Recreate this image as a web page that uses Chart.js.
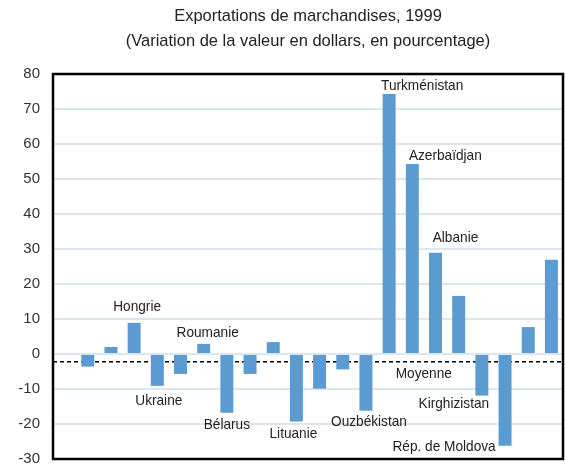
<!DOCTYPE html>
<html>
<head>
<meta charset="utf-8">
<script src="https://cdn.jsdelivr.net/npm/chart.js@4"></script>
<style>
  html, body { margin: 0; padding: 0; background: #fff; }
  #wrap { width: 565px; height: 465px; }
</style>
</head>
<body>
<div id="wrap"><canvas id="mainChart" width="565" height="465"></canvas></div>
<script>
// Exportations de marchandises, 1999 -- variation en %
const titleText = 'Exportations de marchandises, 1999';
const subtitleText = '(Variation de la valeur en dollars, en pourcentage)';

// one slot per bar; the first slot is left empty in the original
const countries = ['', '', '', 'Hongrie', 'Ukraine', '', 'Roumanie', 'Bélarus', '', '', 'Lituanie', '', '',
  'Ouzbékistan', 'Turkménistan', 'Azerbaïdjan', 'Albanie', '', 'Kirghizistan', 'Rép. de Moldova', '', ''];
const changes = [null, -3.6, 2.0, 8.9, -9.1, -5.7, 2.9, -16.8, -5.7, 3.4, -19.3, -9.9, -4.4,
  -16.2, 74.3, 54.3, 28.9, 16.6, -11.9, -26.2, 7.7, 26.9];
const average = -2.2;
const averageLabel = 'Moyenne';
const yTicks = [-30, -20, -10, 0, 10, 20, 30, 40, 50, 60, 70, 80];

const FONT = "'Liberation Sans', sans-serif";

// where each country name sits relative to the end of its bar (px)
const labelOffsets = {
  'Hongrie': [3, -16], 'Ukraine': [1.5, 15], 'Roumanie': [4, -11], 'Bélarus': [0, 12],
  'Lituanie': [-3, 12], 'Ouzbékistan': [3, 11], 'Turkménistan': [33, -8],
  'Azerbaïdjan': [33, -8], 'Albanie': [20, -15], 'Kirghizistan': [-28, 8],
  'Rép. de Moldova': [-61, 1]
};

// the original uses a condensed face, so squeeze the text a bit
function narrowText(ctx, text, x, y, squeeze) {
  ctx.save();
  ctx.translate(x, y);
  ctx.scale(squeeze, 1);
  ctx.fillText(text, 0, 0);
  ctx.restore();
}

const decorations = {
  id: 'decorations',
  beforeDatasetsDraw(chart) {
    const ctx = chart.ctx;
    const area = chart.chartArea;
    const yy = chart.scales.y.getPixelForValue(average);
    ctx.save();
    ctx.strokeStyle = '#000';
    ctx.lineWidth = 1.5;
    ctx.setLineDash([4, 3]);
    ctx.beginPath();
    ctx.moveTo(area.left, yy);
    ctx.lineTo(area.right, yy);
    ctx.stroke();
    ctx.restore();
  },
  afterDatasetsDraw(chart) {
    const ctx = chart.ctx;
    const area = chart.chartArea;
    const meta = chart.getDatasetMeta(0);
    ctx.save();
    // frame
    ctx.strokeStyle = '#000';
    ctx.lineWidth = 2.5;
    ctx.strokeRect(area.left, area.top, area.right - area.left, area.bottom - area.top);

    ctx.fillStyle = '#222';
    ctx.font = '15px ' + FONT;
    ctx.textAlign = 'center';
    ctx.textBaseline = 'middle';
    countries.forEach((name, i) => {
      if (!name || !labelOffsets[name]) return;
      const bar = meta.data[i];
      const off = labelOffsets[name];
      narrowText(ctx, name, bar.x + off[0], bar.y + off[1], 0.91);
    });
    const avgBar = meta.data[15];
    narrowText(ctx, averageLabel, avgBar.x + 11.5, chart.scales.y.getPixelForValue(average) + 12, 0.91);

    // title + subtitle centred over the plot
    const cx = (area.left + area.right) / 2;
    ctx.font = '17px ' + FONT;
    narrowText(ctx, titleText, cx, 16, 0.97);
    narrowText(ctx, subtitleText, cx, 41, 0.97);
    ctx.restore();
  }
};

const ctx = document.getElementById('mainChart').getContext('2d');
new Chart(ctx, {
  type: 'bar',
  data: {
    labels: countries,
    datasets: [{
      data: changes,
      backgroundColor: '#5b9bd1',
      barPercentage: 0.56,
      categoryPercentage: 1.0
    }]
  },
  options: {
    responsive: false,
    animation: false,
    layout: { padding: { top: 74, right: 2, bottom: 6, left: 0 }, autoPadding: false },
    plugins: {
      legend: { display: false },
      title: { display: false },
      tooltip: { enabled: false }
    },
    scales: {
      x: { display: false },
      y: {
        min: -30,
        max: 80,
        afterFit(scale) {
          scale.width = 53;
          // tick padding would otherwise push the plot bottom up
          scale.paddingTop = 0;
          scale.paddingBottom = 0;
        },
        afterBuildTicks(scale) { scale.ticks = yTicks.map(v => ({ value: v })); },
        grid: { color: '#dce6f2', lineWidth: 2, drawTicks: false },
        border: { display: false },
        ticks: {
          padding: 13,
          color: '#333',
          font: { family: FONT, size: 15 }
        }
      }
    }
  },
  plugins: [decorations]
});
</script>
</body>
</html>
